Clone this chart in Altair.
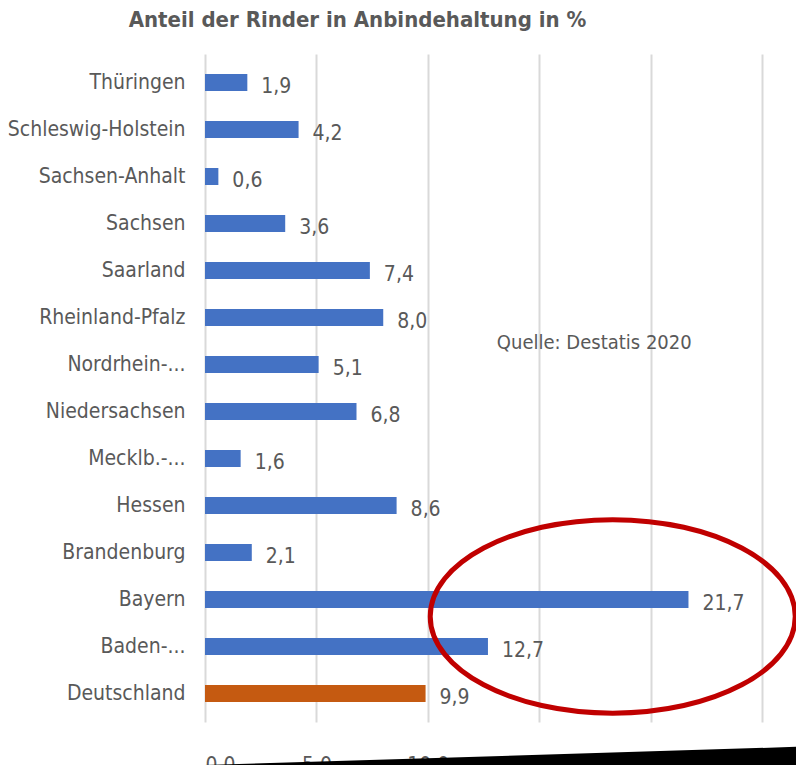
import json
import altair as alt
import pandas as pd

states = ["Thüringen", "Schleswig-Holstein", "Sachsen-Anhalt", "Sachsen", "Saarland",
          "Rheinland-Pfalz", "Nordrhein-...", "Niedersachsen", "Mecklb.-...", "Hessen",
          "Brandenburg", "Bayern", "Baden-...", "Deutschland"]
values = [1.9, 4.2, 0.6, 3.6, 7.4, 8.0, 5.1, 6.8, 1.6, 8.6, 2.1, 21.7, 12.7, 9.9]
x_ticks = [0, 5, 10, 15, 20, 25]

# annotations (in data units)
note_text = ["Quelle: Destatis 2020"]
note_x = [13.1]
note_y = [5.55]
ellipse_x = [18.3]
ellipse_y = [11.36]
shade_x = [-3.37, 26.9]
shade_top = [14.57, 14.13]
shade_bottom = [14.8, 14.8]

FONT = "Liberation Sans Narrow, DejaVu Sans Condensed, Liberation Sans"
GREY = "#595959"

df = pd.DataFrame({
    "state": states,
    "idx": list(range(len(states))),
    "value": values,
    "label": [f"{v:.1f}".replace(".", ",") for v in values],
})
notes = pd.DataFrame({"text": note_text, "x": note_x, "y": note_y})
ell = pd.DataFrame({"x": ellipse_x, "y": ellipse_y})
shade = pd.DataFrame({"x": shade_x, "top": shade_top, "bottom": shade_bottom})

names_expr = json.dumps(states, ensure_ascii=False)

xscale = alt.Scale(domain=[0, 25], nice=False, zero=True)
yscale = alt.Scale(domain=[-0.5, len(states) - 0.5], nice=False, zero=False, reverse=True)

x_axis = alt.Axis(values=x_ticks, title=None, grid=True, gridColor="#D9D9D9", gridWidth=2,
                  ticks=False, domain=False, labelFont=FONT, labelFontSize=21, labelColor=GREY,
                  labelPadding=32,
                  labelExpr="replace(format(datum.value, '.1f'), '.', ',')")
y_axis = alt.Axis(values=list(range(len(states))), title=None, grid=False, ticks=False,
                  domain=False, labelFont=FONT, labelFontSize=21, labelColor=GREY,
                  labelPadding=20, labelLimit=400,
                  labelExpr=f"{names_expr}[datum.value]")

bars = alt.Chart(df).mark_bar(orient="horizontal", size=17).encode(
    x=alt.X("value:Q", scale=xscale, axis=x_axis),
    y=alt.Y("idx:Q", scale=yscale, axis=y_axis),
    color=alt.condition(alt.datum.state == "Deutschland", alt.value("#C55A11"), alt.value("#4472C4")),
)

labels = alt.Chart(df).mark_text(align="left", baseline="middle", dx=14, dy=4, font=FONT,
                                 fontSize=21, color=GREY).encode(
    x=alt.X("value:Q", scale=xscale),
    y=alt.Y("idx:Q", scale=yscale),
    text="label:N",
)

note = alt.Chart(notes).mark_text(align="left", baseline="middle", font=FONT, fontSize=20,
                                  color=GREY).encode(
    x=alt.X("x:Q", scale=xscale),
    y=alt.Y("y:Q", scale=yscale),
    text="text:N",
)

ellipse_path = "M -1 0 A 1 0.53 0 1 0 1 0 A 1 0.53 0 1 0 -1 0 Z"
circle = alt.Chart(ell).mark_point(shape=ellipse_path, size=365 * 365, filled=False,
                                   stroke="#C00000", strokeWidth=5, opacity=1).encode(
    x=alt.X("x:Q", scale=xscale),
    y=alt.Y("y:Q", scale=yscale),
)

black = alt.Chart(shade).mark_area(color="black", opacity=1).encode(
    x=alt.X("x:Q", scale=xscale),
    y=alt.Y("top:Q", scale=yscale),
    y2="bottom:Q",
)

chart = alt.layer(bars, labels, note, circle, black).properties(
    width=557,
    height=668,
    autosize=alt.AutoSizeParams(type="none"),
    padding={"left": 197, "top": 46, "right": 34, "bottom": 43},
    title=alt.TitleParams("Anteil der Rinder in Anbindehaltung in %", font=FONT, fontSize=22,
                          fontWeight="bold", color=GREY, anchor="middle", dx=-126, offset=22),
).configure_view(stroke=None)

chart.save("out.html", embed_options={"renderer": "svg", "actions": False})
